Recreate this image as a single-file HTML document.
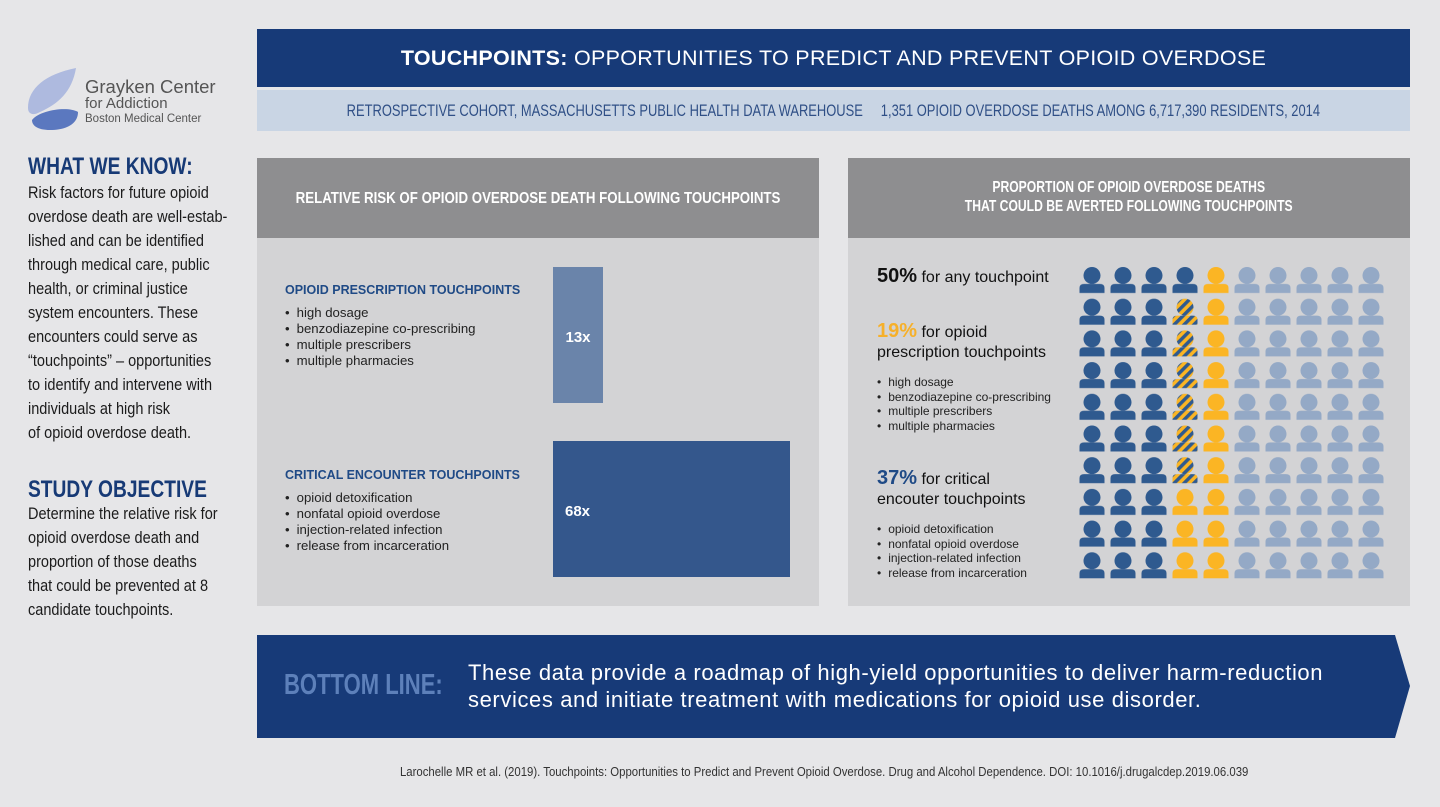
<!DOCTYPE html>
<html><head><meta charset="utf-8"><style>
*{margin:0;padding:0;box-sizing:border-box}
body{width:1440px;height:807px;background:#e6e6e8;position:relative;overflow:hidden;font-family:"Liberation Sans",sans-serif}
.a{position:absolute;white-space:nowrap}
.c{display:inline-block;transform-origin:center}
.w{position:absolute;left:-300px;right:-300px;text-align:center;white-space:nowrap}
.lt{font-size:16.5px;color:#1b1b1b;line-height:24px;left:28px;transform:scaleX(0.88);transform-origin:left top}
ul{list-style:none}
.bl{font-size:13.2px;color:#222;line-height:16px}
.bl li:before{content:"•";margin-right:7px}
.rb{font-size:12px;color:#222;line-height:14.5px}
.rb li:before{content:"•";margin-right:7px}
</style></head><body>
<!-- logo -->
<svg class="a" style="left:26px;top:66px" width="60" height="66" viewBox="0 0 60 66">
<path d="M50 2 C20 8 2 22 2 42 C2 48 7 50 14 46 C32 38 46 26 50 2Z" fill="#aebadf"/>
<path d="M6 54 C14 44 42 40 52 46 C52 58 40 64 24 64 C12 64 6 60 6 54Z" fill="#5b78bf"/>
</svg>
<div class="a" style="left:85px;top:76px;font-size:18.5px;color:#555">Grayken Center</div>
<div class="a" style="left:85px;top:95px;font-size:15px;color:#555">for Addiction</div>
<div class="a" style="left:85px;top:113px;font-size:11.5px;color:#555">Boston Medical Center</div>

<div class="a" style="left:28px;top:153px;font-size:24px;font-weight:bold;color:#173a76;transform:scaleX(0.8);transform-origin:left top">WHAT WE KNOW:</div>
<div class="a lt" style="top:181px">Risk factors for future opioid<br>overdose death are well-estab-<br>lished and can be identified<br>through medical care, public<br>health, or criminal justice<br>system encounters. These<br>encounters could serve as<br>“touchpoints” – opportunities<br>to identify and intervene with<br>individuals at high risk<br>of opioid overdose death.</div>
<div class="a" style="left:28px;top:476px;font-size:24px;font-weight:bold;color:#173a76;transform:scaleX(0.8);transform-origin:left top">STUDY OBJECTIVE</div>
<div class="a lt" style="top:502px">Determine the relative risk for<br>opioid overdose death and<br>proportion of those deaths<br>that could be prevented at 8<br>candidate touchpoints.</div>

<!-- banners -->
<div class="a" style="left:257px;top:29px;width:1153px;height:58px;background:#173a78;color:#fff;font-size:21.5px;letter-spacing:0.3px;text-align:center;line-height:58px"><b>TOUCHPOINTS:</b> OPPORTUNITIES TO PREDICT AND PREVENT OPIOID OVERDOSE</div>
<div class="a" style="left:257px;top:90px;width:1153px;height:41px;background:#c9d5e4;overflow:hidden"><div class="w" style="color:#2f4f86;font-size:17px;line-height:41px"><span class="c" style="transform:scaleX(0.76)">RETROSPECTIVE COHORT, MASSACHUSETTS PUBLIC HEALTH DATA WAREHOUSE &nbsp;&nbsp;&nbsp; 1,351 OPIOID OVERDOSE DEATHS AMONG 6,717,390 RESIDENTS, 2014</span></div></div>

<!-- left panel -->
<div class="a" style="left:257px;top:158px;width:562px;height:448px;background:#d3d3d5"></div>
<div class="a" style="left:257px;top:158px;width:562px;height:80px;background:#8e8e90"><div class="w" style="color:#fff;font-size:16px;font-weight:bold;line-height:82px"><span class="c" style="transform:scaleX(0.83)">RELATIVE RISK OF OPIOID OVERDOSE DEATH FOLLOWING TOUCHPOINTS</span></div></div>
<div class="a" style="left:285px;top:283px;font-size:12.5px;font-weight:bold;color:#1f4a86">OPIOID PRESCRIPTION TOUCHPOINTS</div>
<ul class="a bl" style="left:285px;top:305px"><li>high dosage</li><li>benzodiazepine co-prescribing</li><li>multiple prescribers</li><li>multiple pharmacies</li></ul>
<div class="a" style="left:553px;top:267px;width:50px;height:136px;background:#6a84aa;color:#fff;font-weight:bold;font-size:15px;text-align:center;line-height:142px">13x</div>
<div class="a" style="left:285px;top:468px;font-size:12.5px;font-weight:bold;color:#1f4a86">CRITICAL ENCOUNTER TOUCHPOINTS</div>
<ul class="a bl" style="left:285px;top:490px"><li>opioid detoxification</li><li>nonfatal opioid overdose</li><li>injection-related infection</li><li>release from incarceration</li></ul>
<div class="a" style="left:553px;top:441px;width:237px;height:136px;background:#34578c;color:#fff;font-weight:bold;font-size:15px;padding-left:12px;line-height:142px">68x</div>

<!-- right panel -->
<div class="a" style="left:848px;top:158px;width:562px;height:448px;background:#d3d3d5"></div>
<div class="a" style="left:848px;top:158px;width:562px;height:80px;background:#8e8e90"><div class="w" style="top:20px;color:#fff;font-size:16px;font-weight:bold;line-height:19px"><span class="c" style="transform:scaleX(0.76)">PROPORTION OF OPIOID OVERDOSE DEATHS<br>THAT COULD BE AVERTED FOLLOWING TOUCHPOINTS</span></div></div>
<div class="a" style="left:877px;top:265px;font-size:16px;color:#111"><b style="font-size:20px">50%</b> for any touchpoint</div>
<div class="a" style="left:877px;top:321px;font-size:16px;color:#111;line-height:20px"><b style="font-size:20px;color:#f6b02a">19%</b> for opioid<br>prescription touchpoints</div>
<ul class="a rb" style="left:877px;top:375px"><li>high dosage</li><li>benzodiazepine co-prescribing</li><li>multiple prescribers</li><li>multiple pharmacies</li></ul>
<div class="a" style="left:877px;top:468px;font-size:16px;color:#111;line-height:20px"><b style="font-size:20px;color:#1f4a86">37%</b> for critical<br>encouter touchpoints</div>
<ul class="a rb" style="left:877px;top:522px"><li>opioid detoxification</li><li>nonfatal opioid overdose</li><li>injection-related infection</li><li>release from incarceration</li></ul>

<svg class="a" style="left:0;top:0" width="1440" height="807">
<defs>
<pattern id="st" width="7" height="7" patternUnits="userSpaceOnUse" patternTransform="rotate(45)"><rect width="7" height="7" fill="#fbb524"/><rect width="3.5" height="7" fill="#2f5a8f"/></pattern>
<pattern id="pd" x="1077" y="265" width="31" height="31.7" patternUnits="userSpaceOnUse"><circle cx="15" cy="10.5" r="8.5" fill="#2f5a8f"/><path d="M2.5 28 V23 Q2.5 19 7 19 H23 Q27.5 19 27.5 23 V28Z" fill="#2f5a8f"/></pattern>
<pattern id="py" x="1077" y="265" width="31" height="31.7" patternUnits="userSpaceOnUse"><circle cx="15" cy="10.5" r="8.5" fill="#fbb524"/><path d="M2.5 28 V23 Q2.5 19 7 19 H23 Q27.5 19 27.5 23 V28Z" fill="#fbb524"/></pattern>
<pattern id="pl" x="1077" y="265" width="31" height="31.7" patternUnits="userSpaceOnUse"><circle cx="15" cy="10.5" r="8.5" fill="#94a9c6"/><path d="M2.5 28 V23 Q2.5 19 7 19 H23 Q27.5 19 27.5 23 V28Z" fill="#94a9c6"/></pattern>
<pattern id="ps" x="1077" y="265" width="31" height="31.7" patternUnits="userSpaceOnUse"><circle cx="15" cy="10.5" r="8.5" fill="url(#st)"/><path d="M2.5 28 V23 Q2.5 19 7 19 H23 Q27.5 19 27.5 23 V28Z" fill="url(#st)"/></pattern>
</defs>
<rect x="1077" y="265" width="93" height="317" fill="url(#pd)"/>
<rect x="1170" y="265" width="31" height="31.7" fill="url(#pd)"/>
<rect x="1170" y="296.7" width="31" height="190.2" fill="url(#ps)"/>
<rect x="1170" y="486.9" width="31" height="95.1" fill="url(#py)"/>
<rect x="1201" y="265" width="31" height="317" fill="url(#py)"/>
<rect x="1232" y="265" width="155" height="317" fill="url(#pl)"/>
<path d="M257 635 H1395 L1410 686 L1395 738 H257Z" fill="#173a78"/>
</svg>

<div class="a" style="left:284px;top:669px;font-size:29px;font-weight:bold;color:#5d80ba;transform:scaleX(0.76);transform-origin:left top">BOTTOM LINE:</div>
<div class="a" style="left:468px;top:659px;font-size:22px;letter-spacing:0.6px;color:#fff;line-height:27px">These data provide a roadmap of high-yield opportunities to deliver harm-reduction<br>services and initiate treatment with medications for opioid use disorder.</div>

<div class="a" style="left:0;width:1648px;text-align:center;top:765px;font-size:12.5px;color:#333"><span class="c" style="transform:scaleX(0.91)">Larochelle MR et al. (2019). Touchpoints: Opportunities to Predict and Prevent Opioid Overdose. Drug and Alcohol Dependence. DOI: 10.1016/j.drugalcdep.2019.06.039</span></div>
</body></html>
